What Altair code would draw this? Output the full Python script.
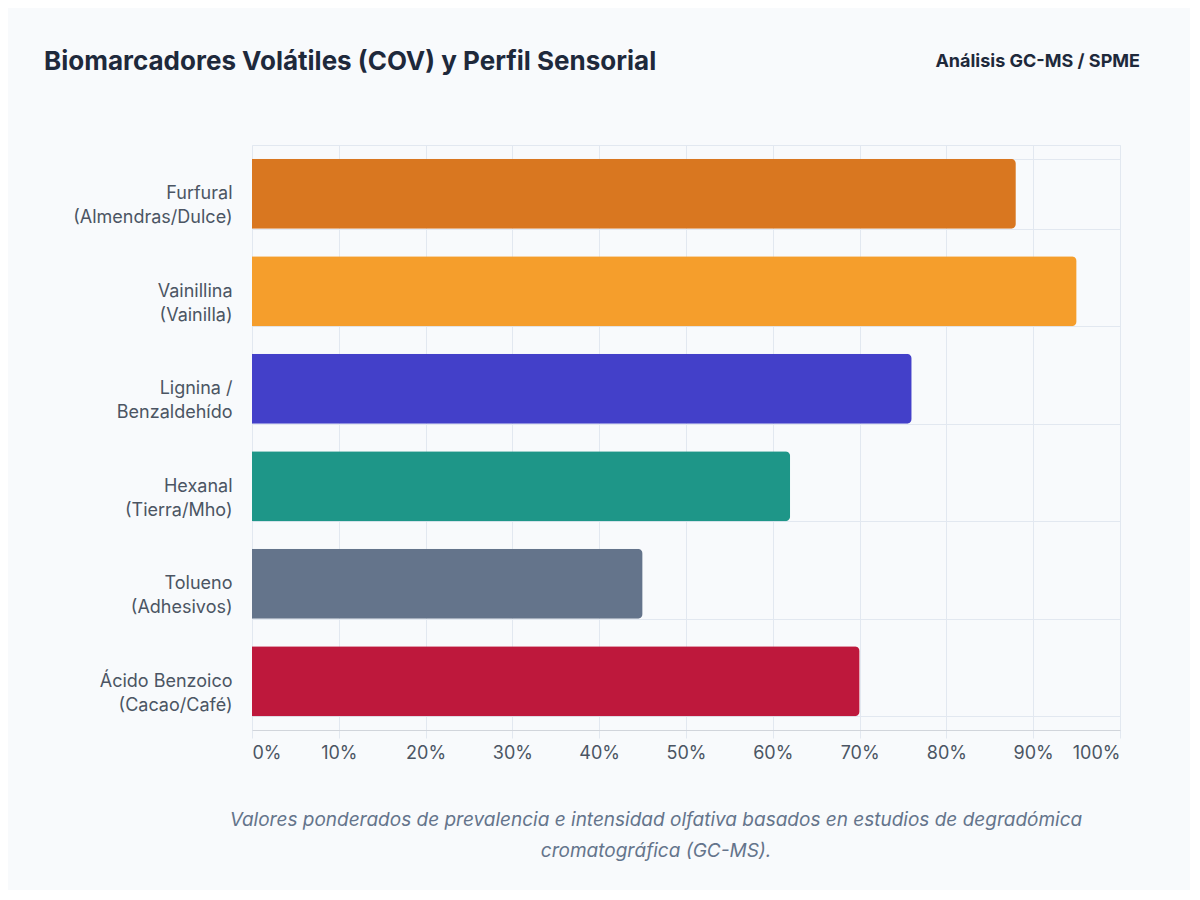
import altair as alt
import pandas as pd

labels = ["Furfural|(Almendras/Dulce)", "Vainillina|(Vainilla)", "Lignina /|Benzaldehído",
          "Hexanal|(Tierra/Mho)", "Tolueno|(Adhesivos)", "Ácido Benzoico|(Cacao/Café)"]
values = [88, 95, 76, 62, 45, 70]
colors = ["#d97720", "#f59e2c", "#4340c9", "#1e9688", "#64748b", "#be183c"]

df = pd.DataFrame({"label": labels, "value": values, "color": colors})
W, H = 868, 585

bars = alt.Chart(df).mark_bar(cornerRadiusEnd=5).encode(
    y=alt.Y("label:N", sort=labels, title=None,
            scale=alt.Scale(paddingInner=0.28, paddingOuter=0.14),
            axis=alt.Axis(labelExpr="split(datum.label, '|')", labelFontSize=18,
                          labelColor="#4b5563", labelFont="Inter", labelPadding=20,
                          labelLineHeight=24, ticks=False, domain=False,
                          gridColor="#e2e8f0", tickBand="extent", grid=True)),
    x=alt.X("value:Q", title=None, scale=alt.Scale(domain=[0, 100]),
            axis=alt.Axis(values=list(range(0, 101, 10)), labelExpr="datum.value + '%'",
                          labelFontSize=18, labelColor="#4b5563", labelFont="Inter",
                          ticks=True, tickColor="#e2e8f0", tickSize=8, labelPadding=6,
                          domainColor="#d1d5db", gridColor="#e2e8f0")),
    color=alt.Color("color:N", scale=None),
)

txt = pd.DataFrame({"t": [0]})
def text(s, x, y, **kw):
    return alt.Chart(txt).mark_text(font="Inter", **kw).encode(
        x=alt.value(x), y=alt.value(y), text=alt.value(s))

title = text("Biomarcadores Volátiles (COV) y Perfil Sensorial", -208, -83,
             fontSize=26, fontWeight="bold", color="#1e293b", align="left")
sub = text("Análisis GC-MS / SPME", 888, -83, fontSize=18, fontWeight="bold",
           color="#1e293b", align="right")
f1 = text("Valores ponderados de prevalencia e intensidad olfativa basados en estudios de degradómica",
          W / 2 - 30, 90 + H, fontSize=19, fontStyle="italic", color="#64748b", align="center")
f2 = text("cromatográfica (GC-MS).", W / 2 - 30, 121 + H, fontSize=19, fontStyle="italic",
          color="#64748b", align="center")

chart = alt.layer(bars, title, sub, f1, f2).properties(
    width=W, height=H, background="#f8fafc",
    padding={"left": 244, "top": 137, "right": 70, "bottom": 160},
    autosize=alt.AutoSizeParams(type="none"),
).configure_view(stroke="#e2e8f0")

chart.save("out.html", embed_options={"renderer": "svg", "actions": False})
